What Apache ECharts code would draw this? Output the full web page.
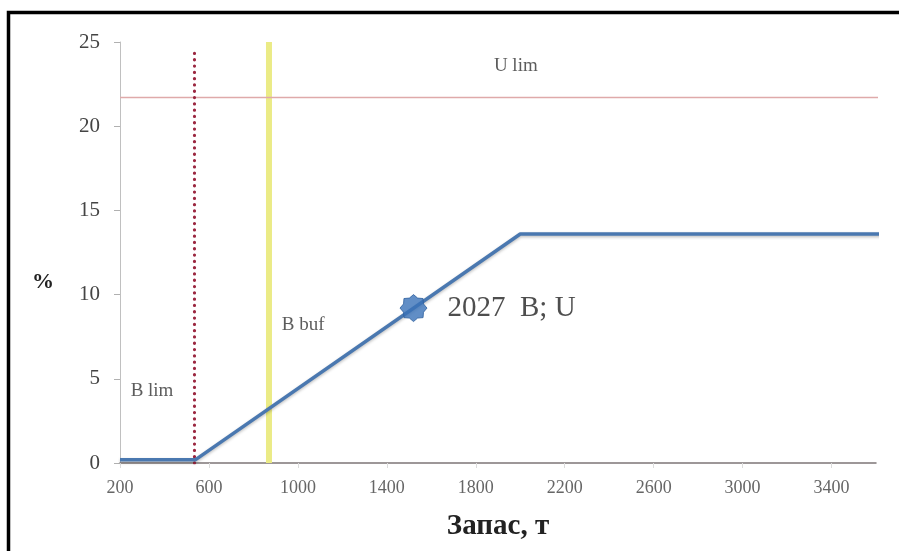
<!DOCTYPE html>
<html><head><meta charset="utf-8">
<script src="https://cdn.jsdelivr.net/npm/echarts@6/dist/echarts.min.js"></script>
<style>html,body{margin:0;padding:0;background:#fff}#c{width:899px;height:551px}</style>
</head><body><div id="c"></div>
<script>
// ---- data ----
const curveX = [200, 540, 2000, 3650];
const curveY = [0.2, 0.2, 13.6, 13.6];
const uLimX = [200, 3620];
const uLimY = [21.7, 21.7];
const bLimX = [535, 535];
const bLimY = [0, 24.4];
const bBufX = [870, 870];
const bBufY = [0, 25];
const pointX = [1520];
const pointY = [9.2];
const pointLabel = '2027  B; U';
const annotNames = ['U lim', 'B lim', 'B buf'];
const annotX = [1980, 344, 1024];
const annotY = [23.6, 4.3, 8.2];
const xAxisTitle = 'Запас, т';
const yAxisTitle = '%';

const zip = (xs, ys) => xs.map((x, i) => [x, ys[i]]);

// 8-point starburst symbol
function starPath(n, rOut, rIn) {
  let d = '';
  for (let i = 0; i < 2 * n; i++) {
    const r = i % 2 === 0 ? rOut : rIn;
    const a = Math.PI * i / n - Math.PI / 2;
    d += (i === 0 ? 'M' : 'L') + (50 + r * Math.cos(a)).toFixed(2) + ' ' + (50 + r * Math.sin(a)).toFixed(2) + ' ';
  }
  return 'path://' + d + 'Z';
}

const serif = '"Liberation Serif", "DejaVu Serif", serif';
const chart = echarts.init(document.getElementById('c'));
chart.setOption({
  animation: false,
  backgroundColor: '#fff',
  grid: { left: 120, right: 23, top: 42, bottom: 88 },
  xAxis: {
    type: 'value', min: 200, max: 3600, interval: 400,
    name: xAxisTitle, nameLocation: 'middle', nameGap: 49,
    nameTextStyle: { fontFamily: serif, fontWeight: 'bold', fontSize: 29, color: '#222' },
    axisLine: { show: true, lineStyle: { color: '#7d7577', width: 1.5 } },
    axisTick: { show: true, length: 5, lineStyle: { color: '#dcdcdc' } },
    axisLabel: { showMaxLabel: false, formatter: v => String(v), fontFamily: serif, fontSize: 18, color: '#666', margin: 16 },
    splitLine: { show: false }
  },
  yAxis: {
    type: 'value', min: 0, max: 25, interval: 5,
    axisLine: { show: true, lineStyle: { color: '#c0c0c0', width: 1 } },
    axisTick: { show: true, length: 6, lineStyle: { color: '#b0b0b0' } },
    axisLabel: { fontFamily: serif, fontSize: 21, color: '#444', margin: 20 },
    splitLine: { show: false }
  },
  graphic: [
    { type: 'rect', z: 100, silent: true, shape: { x: 8.5, y: 12.5, width: 1000, height: 600 },
      style: { fill: 'none', stroke: '#000', lineWidth: 3.5 } },
    { type: 'text', left: 32, top: 271, style: { text: yAxisTitle, fontFamily: serif, fontWeight: 'bold', fontSize: 22, fill: '#222' } }
  ],
  series: [
    { type: 'line', data: zip(bBufX, bBufY), symbol: 'none', z: 1,
      lineStyle: { color: '#ebeb86', width: 6 } },
    { type: 'line', data: zip(uLimX, uLimY), symbol: 'none', z: 2,
      lineStyle: { color: '#dfaaaa', width: 1.5 } },
    { type: 'line', data: zip(bLimX, bLimY), symbol: 'none', z: 3,
      lineStyle: { color: '#9b2740', width: 3.2, type: [0.1, 6.2], cap: 'round' } },
    { type: 'line', data: zip(curveX, curveY), symbol: 'none', z: 4, clip: false,
      lineStyle: { color: '#4a78b0', width: 3.5, shadowBlur: 3, shadowColor: 'rgba(0,0,0,0.25)', shadowOffsetY: 1.5 } },
    { type: 'scatter', data: zip(pointX, pointY), z: 5,
      symbol: starPath(8, 50, 40), symbolSize: 27,
      itemStyle: { color: '#3a72b8', borderColor: '#2d5f9e', borderWidth: 1 },
      label: { show: true, position: 'right', distance: 20, formatter: pointLabel,
        fontFamily: serif, fontSize: 29, color: '#222' } },
    { type: 'scatter', data: annotNames.map((n, i) => ({ name: n, value: [annotX[i], annotY[i]] })),
      symbolSize: 0, z: 6,
      label: { show: true, position: 'inside', formatter: '{b}', fontFamily: serif, fontSize: 19, color: '#333' } }
  ]
});
</script></body></html>
